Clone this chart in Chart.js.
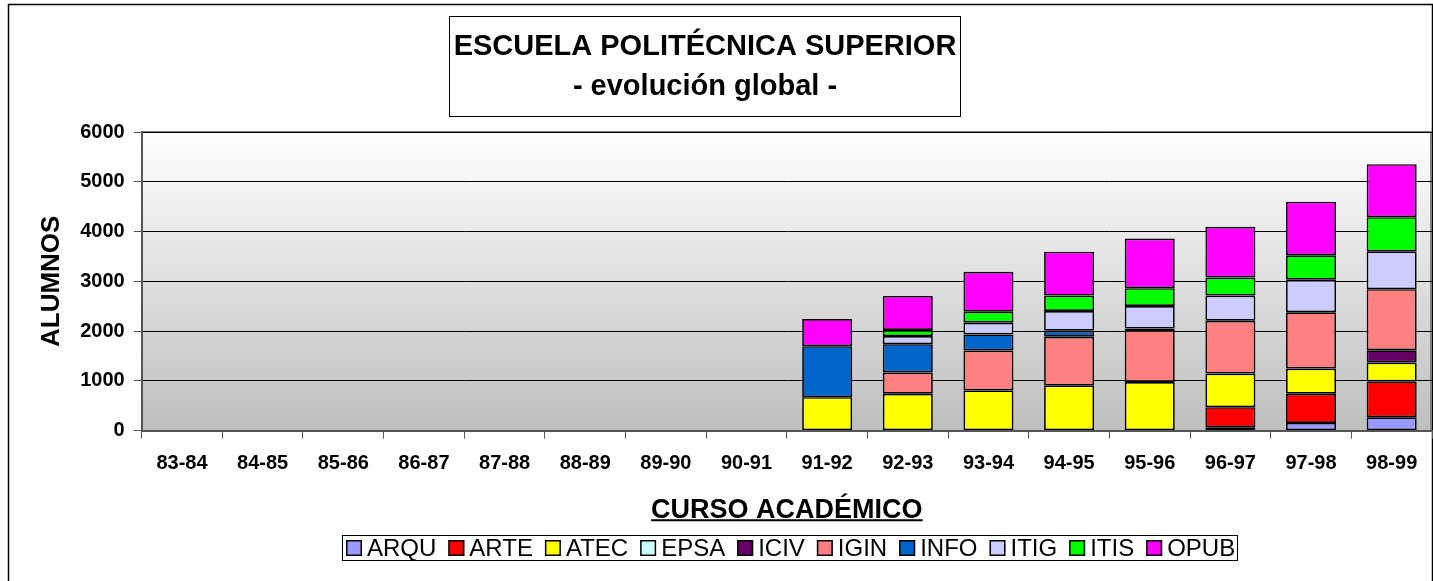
<!DOCTYPE html>
<html>
<head>
<meta charset="utf-8">
<script src="https://cdn.jsdelivr.net/npm/chart.js@4.4.1/dist/chart.umd.min.js"></script>
<style>
  body { margin: 0; background: #fff; }
  canvas { display: block; }
</style>
</head>
<body>
<canvas id="chart" width="1433" height="581"></canvas>
<script>
// cursos académicos
const categories = ['83-84', '84-85', '85-86', '86-87', '87-88', '88-89', '89-90', '90-91',
	'91-92', '92-93', '93-94', '94-95', '95-96', '96-97', '97-98', '98-99'];

// alumnos por titulación
const arqu = [0, 0, 0, 0, 0, 0, 0, 0, 0, 0, 0, 0, 0, 67, 155, 269];
const arte = [0, 0, 0, 0, 0, 0, 0, 0, 0, 0, 0, 0, 0, 404, 586, 721];
const atec = [0, 0, 0, 0, 0, 0, 0, 0, 672, 741, 808, 909, 976, 674, 505, 377];
const epsa = [0, 0, 0, 0, 0, 0, 0, 0, 0, 0, 0, 0, 0, 0, 0, 0];
const iciv = [0, 0, 0, 0, 0, 0, 0, 0, 0, 0, 0, 0, 0, 0, 0, 249];
const igin = [0, 0, 0, 0, 0, 0, 0, 0, 0, 425, 802, 976, 1044, 1063, 1131, 1226];
const info = [0, 0, 0, 0, 0, 0, 0, 0, 1025, 571, 323, 121, 30, 0, 0, 0];
const itig = [0, 0, 0, 0, 0, 0, 0, 0, 0, 162, 235, 398, 455, 505, 653, 760];
const itis = [0, 0, 0, 0, 0, 0, 0, 0, 0, 121, 222, 309, 357, 364, 492, 687];
const opub = [0, 0, 0, 0, 0, 0, 0, 0, 545, 687, 800, 883, 997, 1018, 1078, 1065];

const yTicks = [0, 1000, 2000, 3000, 4000, 5000, 6000];

const seriesNames = ['ARQU', 'ARTE', 'ATEC', 'EPSA', 'ICIV', 'IGIN', 'INFO', 'ITIG', 'ITIS', 'OPUB'];
const seriesData = [arqu, arte, atec, epsa, iciv, igin, info, itig, itis, opub];
const seriesColors = ['#9999FF', '#FF0000', '#FFFF00', '#CCFFFF', '#660066',
	'#FF8080', '#0066CC', '#CCCCFF', '#00FF00', '#FF00FF'];

const titleLines = ['ESCUELA POLITÉCNICA SUPERIOR', '- evolución global -'];
const FONT = '"Liberation Sans", Arial, sans-serif';

// marco exterior, fondo degradado del área de trazado
const backdrop = {
	id: 'backdrop',
	beforeDraw(chart) {
		const ctx = chart.ctx;
		const a = chart.chartArea;
		ctx.save();
		ctx.fillStyle = '#fff';
		ctx.fillRect(0, 0, chart.width, chart.height);
		ctx.strokeStyle = '#000';
		ctx.lineWidth = 1.5;
		ctx.strokeRect(8.5, 4.5, chart.width - 9, chart.height + 20);

		const g = ctx.createLinearGradient(0, a.top, 0, a.bottom);
		g.addColorStop(0, '#ffffff');
		g.addColorStop(1, '#bebebe');
		ctx.fillStyle = g;
		ctx.fillRect(a.left, a.top, a.right - a.left, a.bottom - a.top);
		ctx.strokeStyle = '#808080';
		ctx.lineWidth = 2;
		ctx.beginPath();
		ctx.moveTo(a.left, a.top);
		ctx.lineTo(a.right - 1, a.top);
		ctx.lineTo(a.right - 1, a.bottom);
		ctx.stroke();
		ctx.restore();
	}
};

// título en recuadro, subrayado del eje X, leyenda en recuadro
const decorations = {
	id: 'decorations',
	afterDraw(chart) {
		const ctx = chart.ctx;
		ctx.save();

		ctx.strokeStyle = '#000';
		ctx.lineWidth = 1;
		ctx.strokeRect(449.5, 16.5, 511, 100);
		ctx.fillStyle = '#000';
		ctx.textAlign = 'center';
		ctx.textBaseline = 'middle';
		ctx.font = 'bold 29px ' + FONT;
		ctx.fillText(titleLines[0], 705, 47);
		ctx.fillText(titleLines[1], 705, 87);

		// subrayado
		const xs = chart.scales.x;
		const tOpts = xs.options.title;
		const size = tOpts.font.size;
		const yMid = xs.bottom - tOpts.padding.bottom - size * 1.2 / 2;
		ctx.font = 'bold ' + size + 'px ' + FONT;
		const w = ctx.measureText(tOpts.text).width;
		const cx = (xs.left + xs.right) / 2;
		ctx.lineWidth = 2;
		ctx.beginPath();
		ctx.moveTo(cx - w / 2, yMid + size * 0.35);
		ctx.lineTo(cx + w / 2, yMid + size * 0.35);
		ctx.stroke();

		// leyenda
		const box = 16, gap = 5, spacing = 12;
		const ly = xs.bottom + 14;
		ctx.font = '24px ' + FONT;
		const widths = seriesNames.map(n => ctx.measureText(n).width);
		const total = widths.reduce((s, tw) => s + box + gap + tw, 0) + spacing * (seriesNames.length - 1);
		let x = Math.round(cx + 4 - total / 2);
		ctx.lineWidth = 1;
		ctx.strokeRect(x - 3.5, ly - 12.5, Math.round(total + 6), 25);
		ctx.textAlign = 'left';
		seriesNames.forEach((n, i) => {
			ctx.fillStyle = seriesColors[i];
			ctx.fillRect(x, ly - box / 2, box, box);
			ctx.strokeStyle = '#000';
			ctx.lineWidth = 1.5;
			ctx.strokeRect(x + 0.75, ly - box / 2 + 0.75, box - 1.5, box - 1.5);
			ctx.fillStyle = '#000';
			ctx.fillText(n, x + box + gap, ly + 1);
			x += box + gap + widths[i] + spacing;
		});
		ctx.restore();
	}
};

const datasets = seriesNames.map((name, i) => ({
	label: name,
	data: seriesData[i],
	backgroundColor: seriesColors[i],
	borderColor: '#000',
	borderWidth: 1.7,
	borderSkipped: false,
	barPercentage: 0.62,
	categoryPercentage: 1
}));

new Chart(document.getElementById('chart'), {
	type: 'bar',
	data: { labels: categories, datasets: datasets },
	plugins: [backdrop, decorations],
	options: {
		responsive: false,
		animation: false,
		layout: { padding: { top: 132, right: 1, left: 30, bottom: 47 } },
		plugins: {
			title: { display: false },
			tooltip: { enabled: false },
			legend: { display: false }
		},
		scales: {
			x: {
				stacked: true,
				grid: { drawOnChartArea: false, drawTicks: true, tickLength: 8, color: '#555', offset: true },
				border: { color: '#555', width: 2 },
				ticks: { color: '#000', font: { family: FONT, size: 20, weight: 'bold' }, padding: 13, maxRotation: 0 },
				title: {
					display: true,
					text: 'CURSO ACADÉMICO',
					color: '#000',
					font: { family: FONT, size: 27, weight: 'bold' },
					padding: { top: 6, bottom: 7 }
				}
			},
			y: {
				stacked: true,
				min: yTicks[0],
				max: yTicks[yTicks.length - 1],
				afterBuildTicks: (scale) => { scale.ticks = yTicks.map(v => ({ value: v })); },
				ticks: {
					color: '#000',
					font: { family: FONT, size: 20, weight: 'bold' },
					padding: 9,
					callback: (v) => String(v)
				},
				grid: { color: '#000', lineWidth: 1, tickLength: 8, tickColor: '#555' },
				border: { color: '#555', width: 2 },
				title: {
					display: true,
					text: 'ALUMNOS',
					color: '#000',
					font: { family: FONT, size: 26, weight: 'bold' },
					padding: { top: 6, bottom: 4 }
				}
			}
		}
	}
});
</script>
</body>
</html>
